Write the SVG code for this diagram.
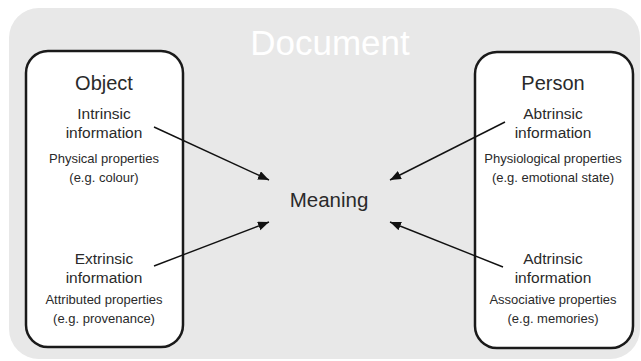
<svg xmlns="http://www.w3.org/2000/svg" width="641" height="361" viewBox="0 0 641 361">
<defs>
<style>
text{font-family:"Liberation Sans",Arial,sans-serif;fill:#2a2a2a;text-anchor:middle}
.title{font-size:35px;fill:#ffffff}
.head{font-size:20px}
.sub{font-size:15.5px}
.small{font-size:13px}
.mean{font-size:20.5px}
.box{fill:#ffffff;stroke:#1a1a1a;stroke-width:2.5}
.conn{stroke:#111111;stroke-width:1.4;fill:none;marker-end:url(#ah)}
</style>
<marker id="ah" markerUnits="userSpaceOnUse" markerWidth="12" markerHeight="10" refX="11" refY="4.5" orient="auto">
<path d="M0,0 L11,4.5 L0,9 Z" fill="#111111"/>
</marker>
</defs>
<rect id="document" x="9" y="8" width="631" height="351" rx="30" fill="#e8e8e8"/>
<text class="title" x="330" y="55">Document</text>
<g id="object">
<rect class="box" x="26" y="51" width="157" height="296" rx="22"/>
<text class="head" x="104" y="90">Object</text>
<text class="sub" x="104" y="119">Intrinsic</text>
<text class="sub" x="104" y="138">information</text>
<text class="small" x="104" y="163">Physical properties</text>
<text class="small" x="104" y="182">(e.g. colour)</text>
<text class="sub" x="104" y="264">Extrinsic</text>
<text class="sub" x="104" y="283">information</text>
<text class="small" x="104" y="304">Attributed properties</text>
<text class="small" x="104" y="323">(e.g. provenance)</text>
</g>
<g id="person">
<rect class="box" x="475" y="52" width="158" height="296" rx="22"/>
<text class="head" x="553" y="90">Person</text>
<text class="sub" x="553" y="119">Abtrinsic</text>
<text class="sub" x="553" y="138">information</text>
<text class="small" x="553" y="163">Physiological properties</text>
<text class="small" x="553" y="182">(e.g. emotional state)</text>
<text class="sub" x="553" y="264">Adtrinsic</text>
<text class="sub" x="553" y="283">information</text>
<text class="small" x="553" y="304">Associative properties</text>
<text class="small" x="553" y="323">(e.g. memories)</text>
</g>
<g id="meaning">
<text class="mean" x="329" y="207">Meaning</text>
</g>
<g id="connectors">
<line class="conn" x1="154" y1="127" x2="269" y2="180"/>
<line class="conn" x1="154" y1="266" x2="269" y2="222"/>
<line class="conn" x1="505" y1="122" x2="390" y2="180"/>
<line class="conn" x1="503" y1="267" x2="390" y2="222"/>
</g>
</svg>
